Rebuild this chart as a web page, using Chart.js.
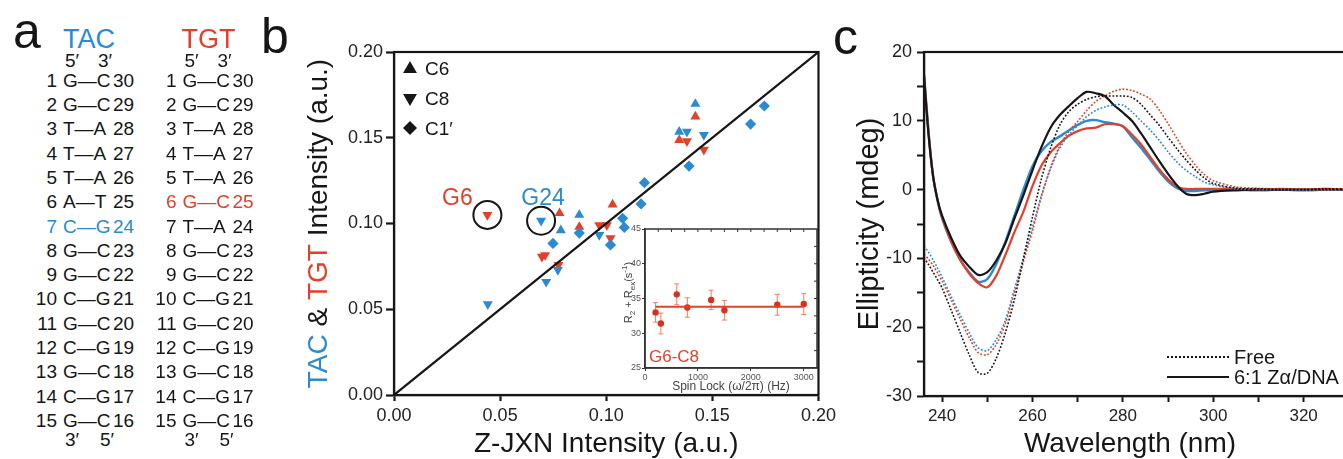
<!DOCTYPE html>
<html>
<head>
<meta charset="utf-8">
<script src="https://cdn.jsdelivr.net/npm/chart.js@4.4.1/dist/chart.umd.min.js"></script>
<style>
  html, body { margin:0; padding:0; width:1343px; height:459px; overflow:hidden; background:#fff; }
  body { position:relative; font-family:'Liberation Sans', Arial, Helvetica, sans-serif; color:#161616; }
  canvas { position:absolute; }
  .t { position:absolute; white-space:nowrap; line-height:1; }
</style>
</head>
<body>
<canvas id="cb" width="580" height="459" style="left:260px;top:0"></canvas>
<canvas id="ci" width="240" height="185" style="left:585px;top:215px"></canvas>
<canvas id="cc" width="580" height="459" style="left:835px;top:0"></canvas>
<div id="panelA"></div>
<div class="t" style="left:13px;top:6px;font-size:50px">a</div>
<div class="t" style="left:261px;top:10.7px;font-size:50px">b</div>
<div class="t" style="left:833px;top:11.7px;font-size:50px">c</div>
<script>
// ---------------- DATA ----------------
// panel a: base-paired strands (top strand 5'->3', partner strand 3'->5')
const tacTop    = ['G','G','T','T','T','A','C','G','G','C','G','C','G','C','G'];
const tacBottom = ['C','C','A','A','A','T','G','C','C','G','C','G','C','G','C'];
const tgtTop    = ['G','G','T','T','T','G','T','G','G','C','G','C','G','C','G'];
const tgtBottom = ['C','C','A','A','A','C','A','C','C','G','C','G','C','G','C'];
const tacHighlightRow = 7;
const tgtHighlightRow = 6;

// panel b: [Z-JXN intensity, TAC/TGT intensity]
const tacC6  = [[0.0786,0.096],[0.0873,0.105],[0.1344,0.1535],[0.142,0.1697]];
const tgtC6  = [[0.078,0.106],[0.0873,0.098],[0.103,0.111],[0.1344,0.1487],[0.142,0.1623]];
const tacC8  = [[0.0442,0.053],[0.0693,0.1016],[0.0967,0.0933],[0.0772,0.0729],[0.0717,0.066],[0.138,0.1535],[0.146,0.1516]];
const tgtC8  = [[0.044,0.105],[0.0697,0.0807],[0.0712,0.0816],[0.0775,0.0758],[0.0967,0.099],[0.1003,0.099],[0.102,0.0914],[0.138,0.148],[0.146,0.143]];
const tacC1p = [[0.0749,0.0884],[0.0873,0.0944],[0.102,0.0875],[0.1077,0.103],[0.1085,0.0977],[0.1164,0.1114],[0.118,0.1238],[0.139,0.1335],[0.168,0.158],[0.1745,0.1685]];
const identityLine = [0, 0.2];
const circledLabels = ['G6', 'G24'];
const circledX = [0.044, 0.0693];
const circledY = [0.105, 0.1016];
const bTicks = [0, 0.05, 0.10, 0.15, 0.20];

// inset: relaxation dispersion G6-C8
const spinLockHz = [200, 300, 600, 800, 1250, 1500, 2500, 3000];
const r2Rex      = [33.0, 31.4, 35.6, 33.7, 34.8, 33.3, 34.1, 34.2];
const r2RexErr   = [1.4, 1.5, 1.5, 1.4, 1.4, 1.4, 1.5, 1.5];
const r2RexFit   = 33.8;
const fitRangeHz = [200, 3000];
const insetXTicks = [0, 1000, 2000, 3000];
const insetYTicks = [25, 30, 35, 40, 45];

// panel c: CD spectra
const wavelengthNm = [236,237,238,239,240,242,244,246,248,250,252,254,256,258,260,262,264,266,268,270,272,274,276,278,280,282,284,286,288,290,292,294,296,298,300,305,310,315,320,325,330,335,340];
const zjxnFree  = [-9.9,-10.9,-12.0,-13.1,-14.3,-17.5,-20.8,-24.0,-26.6,-26.7,-24.5,-20.8,-16.0,-10.0,-4.0,1.6,6.0,9.3,11.3,12.4,13.1,13.5,13.6,13.6,13.6,13.4,12.4,10.9,9.4,7.6,5.9,4.3,2.9,1.7,0.9,0.2,0.1,0,0,0,0,0,0];
const tgtFree   = [-9.4,-10.1,-11.0,-12.1,-13.3,-16.0,-18.8,-21.5,-23.7,-24.0,-22.5,-19.5,-15.0,-10.5,-6.0,-1.0,3.2,6.3,8.4,9.9,11.5,12.8,13.6,14.3,14.6,14.4,13.9,13.2,11.6,9.6,7.4,5.3,3.6,2.2,1.3,0.4,0.2,0.1,0.1,0.1,0.1,0.1,0.1];
const tacFree   = [-8.2,-9.1,-10.2,-11.4,-12.7,-15.5,-18.2,-20.8,-23.0,-23.4,-21.8,-19.0,-14.5,-10.0,-5.5,-0.8,3.0,6.0,7.9,9.3,10.6,11.5,12.0,12.3,12.3,11.3,10.0,8.7,7.2,5.5,4.0,2.8,1.9,1.1,0.7,0.1,0,0,-0.1,0,0,0,0];
const zjxnBound = [16.5,8.0,2.0,-1.5,-3.8,-7.0,-9.6,-11.2,-12.4,-12.0,-10.3,-7.8,-4.2,-0.8,2.8,6.2,9.0,10.8,12.1,13.3,14.2,14.0,13.6,12.3,11.2,10.0,8.2,6.2,4.2,2.3,0.6,-0.6,-0.8,-0.6,-0.3,-0.1,0,0,0,0.1,0,0,0];
const tgtBound  = [16.5,8.3,2.0,-1.5,-4.0,-7.5,-10.2,-12.2,-13.6,-14.2,-12.5,-9.5,-6.2,-3.2,0.5,3.5,5.4,6.7,7.8,8.5,8.9,9.0,9.5,9.5,9.2,8.0,6.6,4.8,3.0,1.5,0.4,0.1,0.1,0.1,0.1,0.1,0,0.1,0,0,0.1,0,0];
const tacBound  = [16.8,8.5,2.0,-1.6,-4.2,-7.6,-10.2,-12.0,-13.4,-13.0,-10.8,-7.6,-3.8,0.0,3.4,5.6,6.9,7.7,8.6,9.4,10.0,10.1,9.8,9.6,9.2,7.6,6.1,4.4,2.7,1.2,0.2,-0.2,-0.2,-0.1,-0.1,0,-0.1,0,-0.1,0,0,0,0];

// ---------------- STYLE ----------------
const FONT = "'Liberation Sans', Arial, Helvetica, sans-serif";
Chart.defaults.font.family = FONT;
Chart.defaults.color = '#222';
const BLUE = '#2a8ad2', RED = '#e3402a', INK = '#161616';

// ---------------- PANEL A (text) ----------------
const panelA = document.getElementById('panelA');
function put(text, x, cy, size, color, align) {
  const d = document.createElement('div');
  d.className = 't';
  d.textContent = text;
  d.style.fontSize = size + 'px';
  d.style.color = color;
  d.style.top = (cy - 0.4885 * size) + 'px';
  if (align === 'right') { d.style.left = (x - 60) + 'px'; d.style.width = '60px'; d.style.textAlign = 'right'; }
  else if (align === 'center') { d.style.left = (x - 60) + 'px'; d.style.width = '120px'; d.style.textAlign = 'center'; }
  else d.style.left = x + 'px';
  panelA.appendChild(d);
}
const rowY0 = 80, rowStep = 24.3, rowFont = 19;
[
  {title:'TAC', color:BLUE, top:tacTop, bottom:tacBottom, hi:tacHighlightRow, dx:0},
  {title:'TGT', color:RED,  top:tgtTop, bottom:tgtBottom, hi:tgtHighlightRow, dx:119.5}
].forEach(col => {
  put(col.title, 89 + col.dx, 39, 27, col.color, 'center');
  put('5\u2032', 65 + col.dx, 60, rowFont, INK);
  put('3\u2032', 98 + col.dx, 60, rowFont, INK);
  const n = col.top.length;
  col.top.forEach((b, i) => {
    const cy = rowY0 + i * rowStep;
    const c = (i + 1 === col.hi) ? col.color : INK;
    put(String(i + 1), 57 + col.dx, cy, rowFont, c, 'right');
    put(b + '\u2014' + col.bottom[i], 63 + col.dx, cy, rowFont, c);
    put(String(2 * n - i), 113 + col.dx, cy, rowFont, c);
  });
  const fy = rowY0 + (n - 1) * rowStep + 19;
  put('3\u2032', 65 + col.dx, fy, rowFont, INK);
  put('5\u2032', 100 + col.dx, fy, rowFont, INK);
});

// ---------------- helpers ----------------
function drawRich(ctx, segs, bx, cy, rot) {
  ctx.save();
  ctx.translate(bx, cy);
  ctx.rotate(rot);
  ctx.textBaseline = 'alphabetic';
  ctx.textAlign = 'left';
  let total = 0;
  segs.forEach(s => { ctx.font = s.size + 'px ' + FONT; s.w = ctx.measureText(s.t).width; total += s.w; });
  let x = -total / 2;
  segs.forEach(s => { ctx.font = s.size + 'px ' + FONT; ctx.fillStyle = s.color; ctx.fillText(s.t, x, s.dy || 0); x += s.w; });
  ctx.restore();
}
const pts = arr => arr.map(([x, y]) => ({x, y}));

function tri(ctx, x, y, r, down) {
  ctx.beginPath();
  const s = down ? -1 : 1;
  ctx.moveTo(x, y - s * r);
  ctx.lineTo(x + r * 0.866, y + s * r * 0.5);
  ctx.lineTo(x - r * 0.866, y + s * r * 0.5);
  ctx.closePath(); ctx.fill();
}
function dia(ctx, x, y, r) {
  ctx.beginPath();
  ctx.moveTo(x, y - r); ctx.lineTo(x + r, y); ctx.lineTo(x, y + r); ctx.lineTo(x - r, y);
  ctx.closePath(); ctx.fill();
}

// ---------------- PANEL B ----------------
const bDecor = {
  id: 'bDecor',
  afterDatasetsDraw(chart) {
    const {ctx, chartArea: a, scales} = chart;
    ctx.save();
    ctx.strokeStyle = INK; ctx.lineWidth = 2.2;
    ctx.strokeRect(a.left, a.top, a.right - a.left, a.bottom - a.top);
    // circled labels
    ctx.font = '23px ' + FONT; ctx.textBaseline = 'alphabetic'; ctx.textAlign = 'center';
    circledLabels.forEach((lab, i) => {
      const px = scales.x.getPixelForValue(circledX[i]);
      const py = scales.y.getPixelForValue(circledY[i]);
      ctx.fillStyle = i === 0 ? RED : BLUE;
      if (i === 0) ctx.fillText(lab, px - 30, py - 10);
      else ctx.fillText(lab, px + 2, py - 16);
    });
    // legend
    ctx.fillStyle = INK; ctx.textAlign = 'left';
    ctx.font = '19px ' + FONT;
    const lx = a.left + 16, tx = a.left + 31;
    tri(ctx, lx, a.top + 17, 8, false); ctx.fillText('C6', tx, a.top + 23);
    tri(ctx, lx, a.top + 46, 8, true);  ctx.fillText('C8', tx, a.top + 53);
    dia(ctx, lx, a.top + 76, 7);        ctx.fillText('C1\u2032', tx, a.top + 83);
    // x title
    ctx.textAlign = 'center';
    ctx.font = '28px ' + FONT;
    ctx.fillText('Z-JXN Intensity (a.u.)', (a.left + a.right) / 2, 452);
    ctx.restore();
    // y title (coloured)
    drawRich(ctx, [
      {t:'TAC', size:28, color:BLUE}, {t:' & ', size:28, color:INK},
      {t:'TGT', size:28, color:RED}, {t:' Intensity (a.u.)', size:28, color:INK}
    ], a.left - 67, (a.top + a.bottom) / 2, -Math.PI / 2);
  }
};
const shapeDs = (arr, style, color, rot, r) => ({
  data: pts(arr), pointStyle: style, pointRotation: rot || 0, pointRadius: r,
  pointBackgroundColor: color, pointBorderColor: color, pointBorderWidth: 0
});
new Chart(document.getElementById('cb'), {
  type: 'scatter',
  data: { datasets: [
    { data: identityLine.map(v => ({x: v, y: v})), showLine: true, borderColor: INK, borderWidth: 2.2, pointRadius: 0 },
    shapeDs(tacC1p, 'rectRot', BLUE, 0, 5.6),
    shapeDs(tacC8, 'triangle', BLUE, 180, 5.8),
    shapeDs(tgtC8, 'triangle', RED, 180, 5.8),
    shapeDs(tacC6, 'triangle', BLUE, 0, 5.8),
    shapeDs(tgtC6, 'triangle', RED, 0, 5.8),
    { data: circledX.map((x, i) => ({x, y: circledY[i]})), pointStyle: 'circle', pointRadius: 14,
      pointBackgroundColor: 'rgba(0,0,0,0)', pointBorderColor: INK, pointBorderWidth: 2 }
  ]},
  options: {
    responsive: false, animation: false, events: [],
    layout: { padding: { top: 52, right: 21, left: 0, bottom: 0 } },
    plugins: { legend: { display: false }, tooltip: { enabled: false } },
    scales: {
      x: { type: 'linear', min: 0, max: 0.2, afterFit: s => { s.height = 64; },
        afterBuildTicks: s => { s.ticks = bTicks.map(v => ({value: v})); },
        ticks: { callback: v => v.toFixed(2), font: { size: 18 }, color: '#222', padding: 4, maxRotation: 0, autoSkip: false },
        grid: { drawOnChartArea: false, tickLength: 6, tickColor: INK, tickWidth: 2.2 },
        border: { color: INK, width: 2.2 } },
      y: { type: 'linear', min: 0, max: 0.2, afterFit: s => { s.width = 134; },
        afterBuildTicks: s => { s.ticks = bTicks.map(v => ({value: v})); },
        ticks: { callback: v => v.toFixed(2), font: { size: 18 }, color: '#222', padding: 3, autoSkip: false },
        grid: { drawOnChartArea: false, tickLength: 8, tickColor: INK, tickWidth: 2.2 },
        border: { color: INK, width: 2.2 } }
    }
  },
  plugins: [bDecor]
});

// ---------------- INSET ----------------
const insetDecor = {
  id: 'insetDecor',
  beforeDraw(chart) {
    const {ctx, chartArea: a} = chart;
    ctx.save(); ctx.fillStyle = '#fff';
    ctx.fillRect(a.left, a.top, a.right - a.left, a.bottom - a.top);
    ctx.restore();
  },
  beforeDatasetsDraw(chart) {
    const {ctx, scales: {x, y}} = chart;
    ctx.save();
    ctx.strokeStyle = '#ef7f62'; ctx.lineWidth = 1;
    spinLockHz.forEach((hz, i) => {
      const px = x.getPixelForValue(hz);
      const y1 = y.getPixelForValue(r2Rex[i] - r2RexErr[i]);
      const y2 = y.getPixelForValue(r2Rex[i] + r2RexErr[i]);
      ctx.beginPath();
      ctx.moveTo(px, y1); ctx.lineTo(px, y2);
      ctx.moveTo(px - 2.5, y1); ctx.lineTo(px + 2.5, y1);
      ctx.moveTo(px - 2.5, y2); ctx.lineTo(px + 2.5, y2);
      ctx.stroke();
    });
    ctx.restore();
  },
  afterDraw(chart) {
    const {ctx, chartArea: a, scales: {x, y}} = chart;
    ctx.save();
    ctx.strokeStyle = '#333'; ctx.lineWidth = 1.5;
    ctx.strokeRect(a.left, a.top, a.right - a.left, a.bottom - a.top);
    ctx.lineWidth = 1;
    ctx.beginPath();
    for (let v = 250; v < 3250; v += 250) { const px = x.getPixelForValue(v); ctx.moveTo(px, a.top); ctx.lineTo(px, a.top + 3); }
    for (let v = 27.5; v < 45; v += 2.5) { const py = y.getPixelForValue(v); ctx.moveTo(a.right, py); ctx.lineTo(a.right - 3, py); }
    ctx.stroke();
    ctx.fillStyle = RED; ctx.font = '17px ' + FONT; ctx.textAlign = 'left'; ctx.textBaseline = 'alphabetic';
    ctx.fillText('G6-C8', a.left + 4, a.bottom - 6);
    ctx.fillStyle = '#444'; ctx.font = '12px ' + FONT; ctx.textAlign = 'center';
    ctx.fillText('Spin Lock (\u03c9/2\u03c0) (Hz)', (a.left + a.right) / 2, a.bottom + 22);
    ctx.restore();
    drawRich(ctx, [
      {t:'R', size:11, color:'#444'}, {t:'2', size:8, color:'#444', dy:3},
      {t:' + R', size:11, color:'#444'}, {t:'ex', size:8, color:'#444', dy:3},
      {t:'(s', size:11, color:'#444'}, {t:'-1', size:8, color:'#444', dy:-5},
      {t:')', size:11, color:'#444'}
    ], a.left - 13, (a.top + a.bottom) / 2 - 6, -Math.PI / 2);
  }
};
new Chart(document.getElementById('ci'), {
  type: 'scatter',
  data: { datasets: [
    { data: fitRangeHz.map(x => ({x, y: r2RexFit})), showLine: true, borderColor: RED, borderWidth: 2, pointRadius: 0 },
    { data: spinLockHz.map((x, i) => ({x, y: r2Rex[i]})), pointStyle: 'circle', pointRadius: 3.2,
      pointBackgroundColor: '#d8301c', pointBorderWidth: 0 }
  ]},
  options: {
    responsive: false, animation: false, events: [],
    layout: { padding: { top: 14, right: 8, left: 0, bottom: 0 } },
    plugins: { legend: { display: false }, tooltip: { enabled: false } },
    scales: {
      x: { type: 'linear', min: 0, max: 3250, afterFit: s => { s.height = 32; },
        afterBuildTicks: s => { s.ticks = insetXTicks.map(v => ({value: v})); },
        ticks: { callback: v => String(v), font: { size: 9 }, color: '#555', padding: 1, maxRotation: 0, autoSkip: false },
        grid: { drawOnChartArea: false, tickLength: 3, tickColor: '#333', tickWidth: 1 },
        border: { color: '#333', width: 1.5 } },
      y: { type: 'linear', min: 25, max: 45, afterFit: s => { s.width = 60; },
        afterBuildTicks: s => { s.ticks = insetYTicks.map(v => ({value: v})); },
        ticks: { callback: v => String(v), font: { size: 9 }, color: '#555', padding: 1 },
        grid: { drawOnChartArea: false, tickLength: 3, tickColor: '#333', tickWidth: 1 },
        border: { color: '#333', width: 1.5 } }
    }
  },
  plugins: [insetDecor]
});

// ---------------- PANEL C ----------------
const cDecor = {
  id: 'cDecor',
  afterDraw(chart) {
    const {ctx, chartArea: a} = chart;
    ctx.save();
    ctx.strokeStyle = INK; ctx.lineWidth = 2.2;
    ctx.strokeRect(a.left, a.top, a.right - a.left, a.bottom - a.top);
    // legend
    const x0 = a.left + 243, x1 = a.left + 305;
    ctx.lineWidth = 1.8; ctx.setLineDash([2, 2]);
    ctx.beginPath(); ctx.moveTo(x0, a.bottom - 39); ctx.lineTo(x1, a.bottom - 39); ctx.stroke();
    ctx.setLineDash([]); ctx.lineWidth = 2.2;
    ctx.beginPath(); ctx.moveTo(x0, a.bottom - 19); ctx.lineTo(x1, a.bottom - 19); ctx.stroke();
    ctx.fillStyle = INK; ctx.font = '20px ' + FONT; ctx.textAlign = 'left'; ctx.textBaseline = 'alphabetic';
    ctx.fillText('Free', x1 + 5, a.bottom - 32);
    ctx.fillText('6:1 Z\u03b1/DNA', x1 + 5, a.bottom - 12);
    // x title
    ctx.font = '28px ' + FONT; ctx.textAlign = 'center';
    ctx.fillText('Wavelength (nm)', a.left + 206, 452);
    ctx.restore();
    drawRich(ctx, [{t:'Ellipticity (mdeg)', size:29, color:INK}], a.left - 46, (a.top + a.bottom) / 2, -Math.PI / 2);
  }
};
const spec = (vals, color, dotted, w) => ({
  data: wavelengthNm.map((x, i) => ({x, y: vals[i]})),
  borderColor: color, borderWidth: w, borderDash: dotted ? [1.8, 1.8] : [],
  pointRadius: 0, tension: 0.3, fill: false
});
new Chart(document.getElementById('cc'), {
  type: 'line',
  data: { datasets: [
    spec(zjxnFree, INK, true, 1.6),
    spec(tgtFree, RED, true, 1.6),
    spec(tacFree, BLUE, true, 1.6),
    spec(zjxnBound, INK, false, 2.2),
    spec(tgtBound, RED, false, 2.2),
    spec(tacBound, BLUE, false, 2.4)
  ]},
  options: {
    responsive: false, animation: false, events: [],
    layout: { padding: { top: 52, right: 21, left: 0, bottom: 0 } },
    plugins: { legend: { display: false }, tooltip: { enabled: false } },
    scales: {
      x: { type: 'linear', min: 236, max: 340, afterFit: s => { s.height = 63; },
        ticks: { stepSize: 10, includeBounds: false, callback: v => (v % 20 === 0 ? String(v) : ''),
          font: { size: 17 }, color: '#222', padding: 4, maxRotation: 0, autoSkip: false },
        grid: { drawOnChartArea: false, tickLength: 6, tickColor: INK, tickWidth: 2 },
        border: { color: INK, width: 2.2 } },
      y: { type: 'linear', min: -30, max: 20, afterFit: s => { s.width = 89; },
        ticks: { stepSize: 5, callback: v => (v % 10 === 0 ? String(v) : ''),
          font: { size: 18 }, color: '#222', padding: 5, autoSkip: false },
        grid: { drawOnChartArea: false, tickLength: 7, tickColor: INK, tickWidth: 2 },
        border: { color: INK, width: 2.2 } }
    }
  },
  plugins: [cDecor]
});
</script>
</body>
</html>
